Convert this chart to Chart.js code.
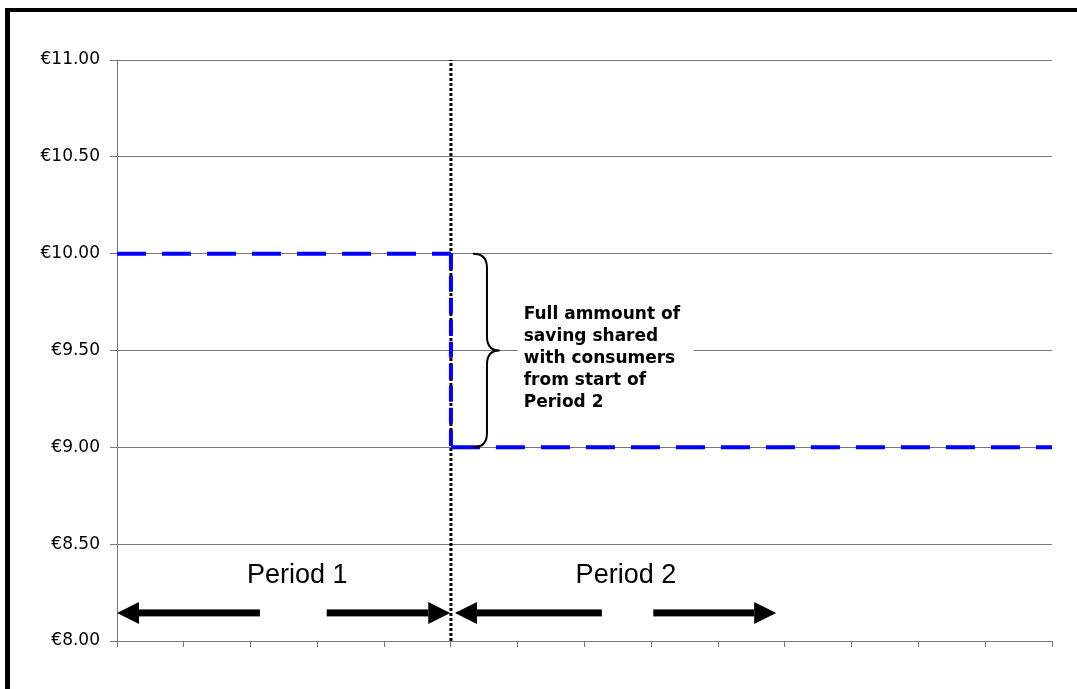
<!DOCTYPE html>
<html lang="en">
<head>
  <meta charset="UTF-8" />
  <title>Price saving shared with consumers</title>
  <script src="https://cdn.jsdelivr.net/npm/chart.js@4.4.0/dist/chart.umd.min.js"></script>
  <style>
    html, body { margin: 0; padding: 0; background: #fff; }
    #wrap { position: relative; width: 1077px; height: 689px; overflow: hidden; }
    #frame { position: absolute; left: 5px; top: 8px; width: 2000px; height: 2000px;
             border-left: 5px solid #000; border-top: 4px solid #000; pointer-events: none; }
  </style>
</head>
<body>
  <div id="wrap">
    <canvas id="chart" width="1077" height="689"></canvas>
    <div id="frame"></div>
  </div>
  <script>
    // x runs over 14 equal time steps, the price drops at step 5
    const stepX = [0, 5, 5, 14];
    const price = [10, 10, 9, 9];
    const changeAt = 5;
    const yTickValues = [8, 8.5, 9, 9.5, 10, 10.5, 11];

    // annotation bits, in data units
    const periodNames = ['Period 1', 'Period 2'];
    const periodCentres = [2.7, 7.62];
    const periodLabelLevel = 8.30;
    const arrowPairs = [[2.14, 0], [3.14, 4.99], [7.26, 5.06], [8.03, 9.87]];  // [tail, head]
    const arrowLevel = 8.145;
    const noteLines = ['Full ammount of', 'saving shared', 'with consumers', 'from start of', 'Period 2'];

    const pt = i => ({ x: stepX[i], y: price[i] });
    const before = [pt(0), pt(1)];
    const drop = [pt(1), pt(2)];
    const after = [pt(2), pt(3)];
    const divider = [{ x: changeAt, y: 8 }, { x: changeAt, y: 11 }];

    const notesPlugin = {
      id: 'notes',
      afterDatasetsDraw(chart) {
        const c = chart.ctx, xs = chart.scales.x, ys = chart.scales.y;
        c.save();

        // arrows
        c.fillStyle = '#000';
        const ay = ys.getPixelForValue(arrowLevel);
        arrowPairs.forEach(([from, to]) => {
          const x0 = xs.getPixelForValue(from), x1 = xs.getPixelForValue(to);
          const dir = x1 > x0 ? 1 : -1;
          const hx = x1 - dir * 22;
          c.fillRect(Math.min(x0, hx), ay - 3.5, Math.abs(hx - x0), 7);
          c.beginPath();
          c.moveTo(x1, ay);
          c.lineTo(hx, ay - 11);
          c.lineTo(hx, ay + 11);
          c.closePath();
          c.fill();
        });

        // period labels
        c.font = '27px "Liberation Sans", Arial, sans-serif';
        c.textAlign = 'center';
        c.textBaseline = 'alphabetic';
        periodNames.forEach((t, i) => {
          c.fillText(t, xs.getPixelForValue(periodCentres[i]), ys.getPixelForValue(periodLabelLevel));
        });

        // brace between the two price levels
        const bx = xs.getPixelForValue(5.33), tip = xs.getPixelForValue(5.73);
        const top = ys.getPixelForValue(price[0]), bot = ys.getPixelForValue(price[2]);
        const mid = (top + bot) / 2, mx = bx + 14;
        c.strokeStyle = '#000';
        c.lineWidth = 2;
        c.beginPath();
        c.moveTo(bx, top);
        c.quadraticCurveTo(mx, top, mx, top + 14);
        c.lineTo(mx, mid - 14);
        c.quadraticCurveTo(mx, mid, tip, mid);
        c.quadraticCurveTo(mx, mid, mx, mid + 14);
        c.lineTo(mx, bot - 14);
        c.quadraticCurveTo(mx, bot, bx, bot);
        c.stroke();

        // note text on a white box
        const tx = xs.getPixelForValue(6.09);
        const lh = 22;
        const ty = mid + 8 - lh * 2;
        c.fillStyle = '#fff';
        c.fillRect(tx - 6, ty - lh / 2 - 2, 176, lh * 5 + 4);
        c.fillStyle = '#000';
        c.font = 'bold 17px "DejaVu Sans", Verdana, sans-serif';
        c.textAlign = 'left';
        c.textBaseline = 'middle';
        noteLines.forEach((t, i) => c.fillText(t, tx, ty + i * lh));
        c.restore();
      }
    };

    const blueLine = (data, dash) => ({
      data: data, borderColor: '#0000ff', borderWidth: 4, borderDash: dash,
      pointRadius: 0, tension: 0, fill: false, order: 1
    });

    new Chart(document.getElementById('chart'), {
      type: 'line',
      data: {
        datasets: [
          blueLine(before, [29, 16]),
          blueLine(drop, [16, 6]),
          blueLine(after, [29, 16]),
          { data: divider, borderColor: '#000', borderWidth: 3, borderDash: [3, 2],
            pointRadius: 0, fill: false, order: 2 }
        ]
      },
      options: {
        responsive: false,
        animation: false,
        layout: { padding: { left: 0, right: 25, top: 60, bottom: 0 } },
        plugins: { legend: { display: false }, tooltip: { enabled: false } },
        scales: {
          x: {
            type: 'linear', min: 0, max: 14,
            ticks: { stepSize: 1, display: false },
            grid: { drawOnChartArea: false, drawTicks: true, tickLength: 6, color: '#777' },
            border: { color: '#777', width: 1 },
            afterFit(s) { s.height = 48; }
          },
          y: {
            min: 8, max: 11,
            afterBuildTicks(s) { s.ticks = yTickValues.map(v => ({ value: v })); },
            ticks: {
              padding: 10, color: '#000',
              font: { family: '"DejaVu Sans", Verdana, sans-serif', size: 17 },
              callback: v => '€' + Number(v).toFixed(2)
            },
            grid: { color: '#777', tickLength: 7 },
            border: { color: '#777', width: 1 },
            afterFit(s) { s.width = 117; }
          }
        }
      },
      plugins: [notesPlugin]
    });
  </script>
</body>
</html>
